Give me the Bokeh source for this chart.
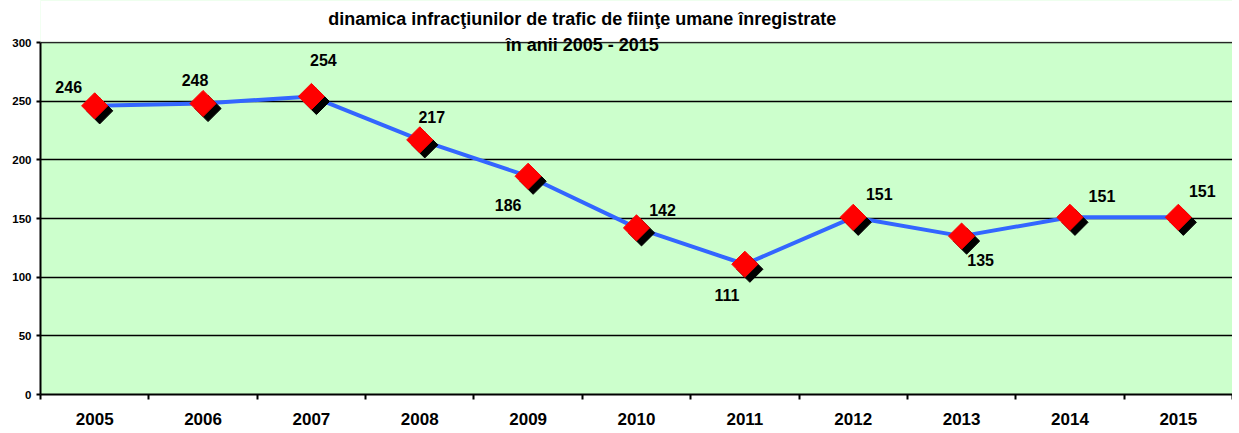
import numpy as np
from bokeh.plotting import figure
from bokeh.models import FixedTicker, ColumnDataSource, Range1d, BoxAnnotation
from bokeh.core.properties import value
from bokeh.embed import file_html
from bokeh.resources import INLINE

years = ["2005", "2006", "2007", "2008", "2009", "2010", "2011", "2012", "2013", "2014", "2015"]
cases = [246, 248, 254, 217, 186, 142, 111, 151, 135, 151, 151]
y_ticks = [0, 50, 100, 150, 200, 250, 300]
title_lines = ["dinamica infracţiunilor de trafic de fiinţe umane înregistrate", "în anii 2005 - 2015"]

# label placement (screen pixel offsets, style only)
lbl_dx = [-26, -8, 12, 12, -20, 26, -18, 26, 19, 32, 24]
lbl_dy = [-19, -24, -36, -23, 29, -18, 31, -23, 24, -21, -26]

FONT = "Liberation Sans"
YMAX = 300
xc = [i + 0.5 for i in range(len(years))]

FW, PH = 1192, 352          # plot-area width / height (0..300) in px
TOP = 42                    # px above the 300 line
px_x = len(years) / FW
px_y = YMAX / PH

p = figure(width=1232, height=433, output_backend="svg", toolbar_location=None,
           x_range=Range1d(0, len(years)), y_range=Range1d(0, YMAX + TOP * px_y),
           min_border_left=40, min_border_top=0, min_border_bottom=39, min_border_right=0)
p.border_fill_color = "white"
p.background_fill_color = "#ccffcc"
p.outline_line_color = None

# white area above the plot area (title zone)
p.add_layout(BoxAnnotation(bottom=YMAX + 1 * px_y, left=-1, right=len(years) + 1,
                           fill_color="white", fill_alpha=1, line_color="white", line_width=2,
                           level="underlay"))

# axes
p.xaxis.ticker = FixedTicker(ticks=xc, minor_ticks=list(range(len(years) + 1)))
p.xaxis.major_label_overrides = {x: y for x, y in zip(xc, years)}
p.xaxis.major_tick_line_color = None
p.xaxis.major_tick_out = 5
p.xaxis.minor_tick_in = 0
p.xaxis.minor_tick_out = 5
p.xaxis.minor_tick_line_color = "black"
p.xaxis.minor_tick_line_width = 2
p.xaxis.axis_line_color = "black"
p.xaxis.axis_line_width = 2
p.xaxis.major_label_text_font = FONT
p.xaxis.major_label_text_font_style = "bold"
p.xaxis.major_label_text_font_size = "17px"
p.xaxis.major_label_text_color = "black"
p.xaxis.major_label_standoff = 13

p.yaxis.ticker = FixedTicker(ticks=y_ticks)
p.yaxis.bounds = (0, YMAX)
p.yaxis.major_tick_in = 0
p.yaxis.major_tick_out = 4
p.yaxis.major_tick_line_width = 2
p.yaxis.minor_tick_line_color = None
p.yaxis.axis_line_color = "black"
p.yaxis.axis_line_width = 2
p.yaxis.major_label_text_font = FONT
p.yaxis.major_label_text_font_style = "bold"
p.yaxis.major_label_text_font_size = "11.5px"
p.yaxis.major_label_text_color = "black"
p.yaxis.major_label_standoff = 5

p.xgrid.grid_line_color = None
p.ygrid.ticker = FixedTicker(ticks=y_ticks)
p.ygrid.grid_line_color = "black"
p.ygrid.grid_line_width = 1.5

# title (two lines)
p.text(x=[5.0, 5.0], y=[YMAX + 24 * px_y, YMAX - 2 * px_y], text=title_lines,
       text_font=value(FONT), text_font_style="bold", text_font_size="18px",
       text_align="center", text_baseline="middle", text_color="black")

# line
src = ColumnDataSource(dict(x=xc, y=cases, dx=lbl_dx, dy=lbl_dy, t=[str(v) for v in cases]))
p.line("x", "y", source=src, line_color="#3366ff", line_width=4)

# shadow markers (offset by a few pixels in data units)
sx = [x + 5 * px_x for x in xc]
sy = [y - 5 * px_y for y in cases]
p.scatter(sx, sy, marker="square", size=18.5, angle=np.pi / 4, fill_color="black", line_color="black")
p.scatter("x", "y", source=src, marker="square", size=18.5, angle=np.pi / 4,
          fill_color="#ff0000", line_color="#ff0000")

# data labels
p.text("x", "y", text="t", source=src, x_offset="dx", y_offset="dy",
       text_font=value(FONT), text_font_style="bold", text_font_size="16px",
       text_align="center", text_baseline="middle", text_color="black")

open("out.html", "w").write(file_html(p, INLINE))
